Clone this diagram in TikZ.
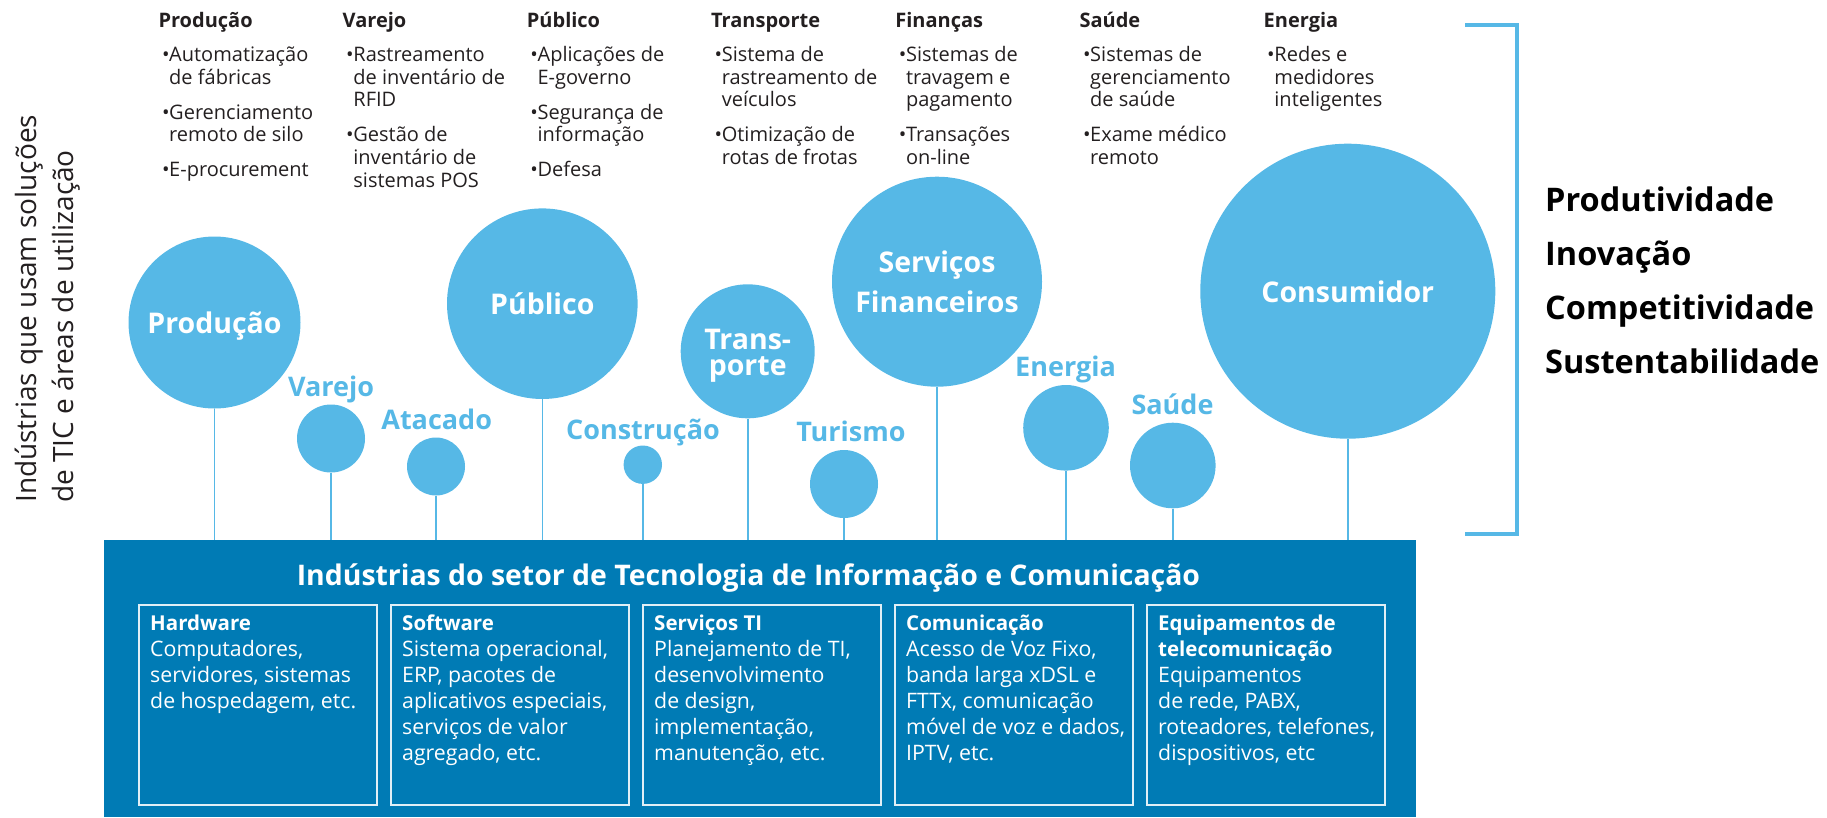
\documentclass[tikz,border=0pt]{standalone}
\usepackage{fontspec}
\setmainfont{Open Sans}
\definecolor{lblue}{RGB}{86,184,230}
\definecolor{dblue}{RGB}{0,123,181}
\definecolor{tdark}{RGB}{35,31,32}
\newcommand\bul{\hspace*{3.5pt}\makebox[7.2pt][l]{•}}
\newcommand\ind{\hspace*{10.7pt}}
\tikzset{
  circ/.style={circle, fill=lblue, draw=none, inner sep=0pt},
  conn/.style={draw=lblue, line width=1.6pt},
  clab/.style={anchor=base, text=white, inner sep=0pt, font=\bfseries\fontsize{28.5}{30}\selectfont},
  blab/.style={anchor=base, text=lblue, inner sep=0pt, font=\bfseries\fontsize{27}{30}\selectfont},
  coltext/.style={anchor=north west, align=left, inner sep=0pt, text=tdark, font=\fontsize{20}{22.8}\selectfont},
  ibox/.style={draw=white!88!dblue, line width=1.5pt, minimum width=238pt, minimum height=200pt, anchor=north west, inner sep=0pt},
  btext/.style={anchor=north west, align=left, inner sep=0pt, text=white, font=\fontsize{21.3}{26}\selectfont},
}
\begin{document}
\begin{tikzpicture}[x=1pt,y=-1pt]
\useasboundingbox (0,0) rectangle (1827,817);

% left rotated title
\node[rotate=90, anchor=north west, align=left, inner sep=0pt, text=tdark,
      font=\fontsize{28}{37}\selectfont] (lefttitle) at (14.5,503)
  {\rule{0pt}{22pt}Indústrias que usam soluções\\de TIC e áreas de utilização};

% top columns
\node[coltext] (c1) at (158.3,7.3) {\rule{0pt}{20pt}\textbf{Produção}\\[10.9pt]\bul Automatização\\\ind de fábricas\\[12.2pt]\bul Gerenciamento\\\ind remoto de silo\\[12.2pt]\bul E-procurement};
\node[coltext] (c2) at (342.5,7.3) {\rule{0pt}{20pt}\textbf{Varejo}\\[10.9pt]\bul Rastreamento\\\ind de inventário de\\\ind RFID\\[12.2pt]\bul Gestão de\\\ind inventário de\\\ind sistemas POS};
\node[coltext] (c3) at (526.7,7.3) {\rule{0pt}{20pt}\textbf{Público}\\[10.9pt]\bul Aplicações de\\\ind E-governo\\[12.2pt]\bul Segurança de\\\ind informação\\[12.2pt]\bul Defesa};
\node[coltext] (c4) at (710.9,7.3) {\rule{0pt}{20pt}\textbf{Transporte}\\[10.9pt]\bul Sistema de\\\ind rastreamento de\\\ind veículos\\[12.2pt]\bul Otimização de\\\ind rotas de frotas};
\node[coltext] (c5) at (895.1,7.3) {\rule{0pt}{20pt}\textbf{Finanças}\\[10.9pt]\bul Sistemas de\\\ind travagem e\\\ind pagamento\\[12.2pt]\bul Transações\\\ind on-line};
\node[coltext] (c6) at (1079.3,7.3) {\rule{0pt}{20pt}\textbf{Saúde}\\[10.9pt]\bul Sistemas de\\\ind gerenciamento\\\ind de saúde\\[12.2pt]\bul Exame médico\\\ind remoto};
\node[coltext] (c7) at (1263.5,7.3) {\rule{0pt}{20pt}\textbf{Energia}\\[10.9pt]\bul Redes e\\\ind medidores\\\ind inteligentes};

% main ICT box
\node[fill=dblue, draw=none, inner sep=0pt, minimum width=1312pt, minimum height=277pt, anchor=north west] (ict) at (104,540) {};
\node[anchor=base, inner sep=0pt, text=white, font=\bfseries\fontsize{28.4}{30}\selectfont] (icttitle) at (748.5,585)
  {Indústrias do setor de Tecnologia de Informação e Comunicação};

% circles
\node[circ, minimum size=172pt] (prod) at (214.5,322.5) {};
\node[circ, minimum size=68pt] (varejo) at (331,438.5) {};
\node[circ, minimum size=58pt] (atacado) at (436,466.5) {};
\node[circ, minimum size=190.6pt] (publico) at (542.3,303.7) {};
\node[circ, minimum size=38.4pt] (constr) at (642.8,464.7) {};
\node[circ, minimum size=134pt] (transp) at (747.7,351.3) {};
\node[circ, minimum size=68pt] (turismo) at (844,484) {};
\node[circ, minimum size=210pt] (financ) at (937,281.7) {};
\node[circ, minimum size=85.6pt] (energia) at (1066,427.8) {};
\node[circ, minimum size=85.6pt] (saude) at (1172.8,465.5) {};
\node[circ, minimum size=295pt] (consum) at (1347.8,291.2) {};

% connectors
\foreach \c in {prod,varejo,atacado,publico,constr,transp,turismo,financ,energia,saude,consum}
  \draw[conn] (\c.south) -- (\c.south |- ict.north);

% circle labels
\node[clab] (lprod) at (214.5,333.5) {Produção};
\node[clab] (lpub) at (542.3,314) {Público};
\node[clab] (ltr1) at (747.7,349.3) {Trans-};
\node[clab] (ltr2) at (747.7,375.5) {porte};
\node[clab] (lfin1) at (937,272.3) {Serviços};
\node[clab] (lfin2) at (937,312.7) {Financeiros};
\node[clab] (lcons) at (1347.8,302) {Consumidor};
\node[blab] (lvar) at (331,396) {Varejo};
\node[blab] (lata) at (436.7,429) {Atacado};
\node[blab] (lcon) at (643,439.3) {Construção};
\node[blab] (ltur) at (851,441.7) {Turismo};
\node[blab] (lene) at (1065.5,376.7) {Energia};
\node[blab] (lsau) at (1172.5,414) {Saúde};

% inner boxes
\node[ibox] (b1) at (138,604.3) {};
\node[ibox] (b2) at (390,604.3) {};
\node[ibox] (b3) at (642,604.3) {};
\node[ibox] (b4) at (894,604.3) {};
\node[ibox] (b5) at (1146,604.3) {};
\node[btext] (t1) at (150,606.7) {\rule{0pt}{24pt}\textbf{\fontsize{20.5}{26}\selectfont Hardware}\\Computadores,\\servidores, sistemas\\de hospedagem, etc.};
\node[btext] (t2) at (402,606.7) {\rule{0pt}{24pt}\textbf{\fontsize{20.5}{26}\selectfont Software}\\Sistema operacional,\\ERP, pacotes de\\aplicativos especiais,\\serviços de valor\\agregado, etc.};
\node[btext] (t3) at (654,606.7) {\rule{0pt}{24pt}\textbf{\fontsize{20.5}{26}\selectfont Serviços TI}\\Planejamento de TI,\\desenvolvimento\\de design,\\implementação,\\manutenção, etc.};
\node[btext] (t4) at (906,606.7) {\rule{0pt}{24pt}\textbf{\fontsize{20.5}{26}\selectfont Comunicação}\\Acesso de Voz Fixo,\\banda larga xDSL e\\FTTx, comunicação\\móvel de voz e dados,\\IPTV, etc.};
\node[btext] (t5) at (1158,606.7) {\rule{0pt}{24pt}\textbf{\fontsize{20.5}{26}\selectfont Equipamentos de}\\\textbf{\fontsize{20.5}{26}\selectfont telecomunicação}\\Equipamentos\\de rede, PABX,\\roteadores, telefones,\\dispositivos, etc};

% bracket
\coordinate (brt) at (1465,25);
\coordinate (brb) at (1465,534);
\draw[draw=lblue, line width=4.5pt] (brt) -- (1517,25) -- (1517,534) -- (brb);

% right words
\node[anchor=north west, align=left, inner sep=0pt, text=black, font=\bfseries\fontsize{32.5}{54}\selectfont] (goals) at (1545,186)
  {\rule{0pt}{25pt}Produtividade\\Inovação\\Competitividade\\Sustentabilidade};
\end{tikzpicture}
\end{document}
